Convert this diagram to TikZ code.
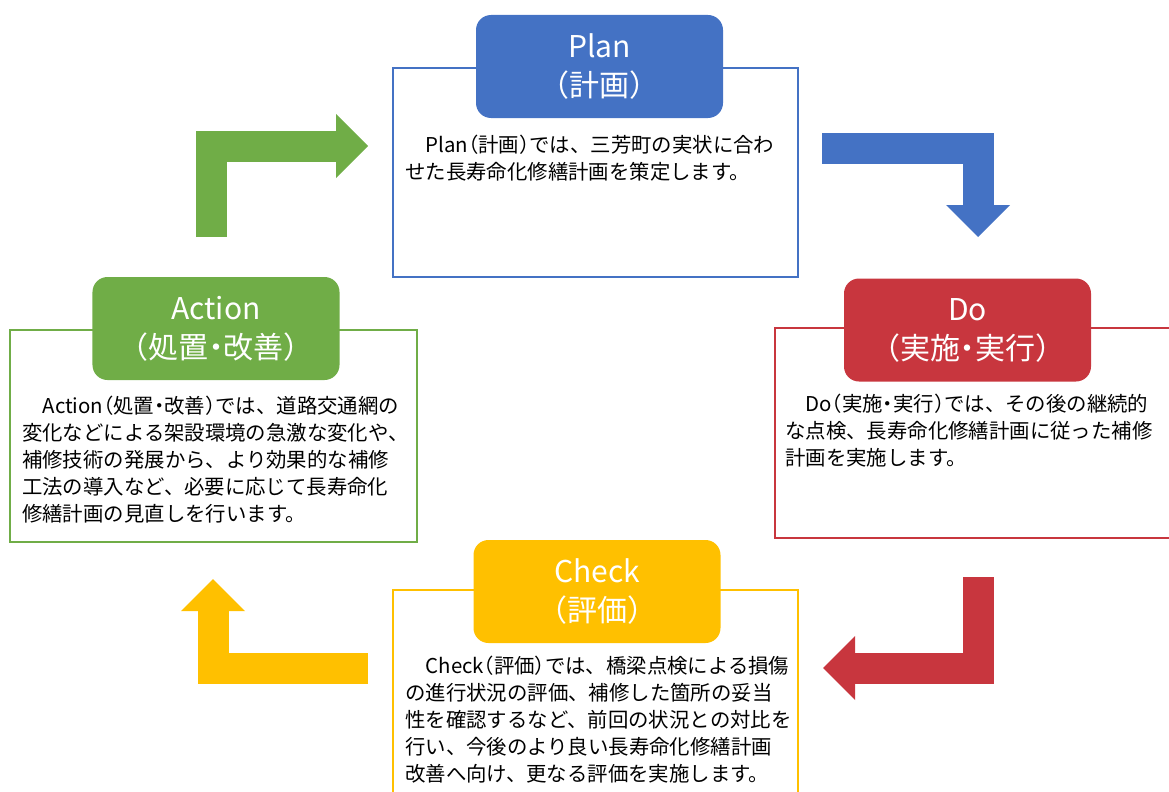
\documentclass[tikz,border=0pt]{standalone}
\usepackage{fontspec}
\setmainfont{Noto Sans CJK JP}
\newfontfamily\halfwidth[RawFeature=+halt]{Noto Sans CJK JP}
\newcommand\hlp{{\halfwidth （}}
\newcommand\hrp{{\halfwidth ）}}
\newcommand\hdot{{\halfwidth ・}}
\usepackage{tikz}
\usetikzlibrary{arrows.meta,positioning}

\definecolor{planblue}{RGB}{68,114,196}
\definecolor{dored}{RGB}{200,54,62}
\definecolor{actgreen}{RGB}{112,173,71}
\definecolor{checkyellow}{RGB}{255,192,0}

\tikzset{
	header/.style={rounded corners=15bp, minimum width=247bp, minimum height=103bp,
		inner sep=0pt, align=center, text=white,
		font=\fontsize{30bp}{39bp}\selectfont},
	frame/.style={line width=1.8bp, inner sep=0pt},
	body/.style={anchor=north west, inner sep=0pt, align=left,
		font=\fontsize{20.4bp}{27bp}\selectfont},
	bent/.style={line width=31bp, line join=miter,
		-{Triangle[length=32bp, width=64bp, line width=0pt]}}
}

\begin{document}
\begin{tikzpicture}[x=1bp, y=-1bp]
		\useasboundingbox (0,0) rectangle (1169,792);

		% 1. Frames behind the headers
		\node[frame, draw=planblue, minimum width=405bp, minimum height=209bp] (planbox) at (595.5,172.5) {};
		\node[frame, draw=dored, minimum width=405bp, minimum height=210bp] (dobox) at (977.5,433) {};
		\node[frame, draw=actgreen, minimum width=407bp, minimum height=212bp] (actbox) at (213.5,436) {};
		\node[frame, draw=checkyellow, minimum width=405bp, minimum height=220bp] (checkbox) at (595.5,700) {};

		% 2. Coloured headers
		\node[header, fill=planblue] (plan) at (599.5,66.5) {Plan\\（計画）};
		\node[header, fill=dored] (do) at (967.5,330) {Do\\（実施\hdot 実行）};
		\node[header, fill=actgreen] (act) at (216,328.5) {Action\\（処置\hdot 改善）};
		\node[header, fill=checkyellow] (check) at (597,591.5) {Check\\（評価）};

		% 3. Texts in the frames
		\node[body] (plantext) at (405,135) {　Plan\hlp 計画\hrp では、三芳町の実状に合わ\\せた長寿命化修繕計画を策定します。};
		\node[body] (dotext) at (785,394) {　Do\hlp 実施\hdot 実行\hrp では、その後の継続的\\な点検、長寿命化修繕計画に従った補修\\計画を実施します。};
		\node[body] (acttext) at (22,396) {　Action\hlp 処置\hdot 改善\hrp では、道路交通網の\\変化などによる架設環境の急激な変化や、\\補修技術の発展から、より効果的な補修\\工法の導入など、必要に応じて長寿命化\\修繕計画の見直しを行います。};
		\node[body] (checktext) at (405,656) {　Check\hlp 評価\hrp では、橋梁点検による損傷\\の進行状況の評価、補修した箇所の妥当\\性を確認するなど、前回の状況との対比を\\行い、今後のより良い長寿命化修繕計画\\改善へ向け、更なる評価を実施します。};

		% 4. Bent arrows between the phases
		\coordinate (a1) at (211,237);
		\coordinate (a2) at (368,146);
		\draw[bent, actgreen] (a1) |- (a2);

		\coordinate (p1) at (822,148);
		\coordinate (p2) at (978,237);
		\draw[bent, planblue] (p1) -| (p2);

		\coordinate (d1) at (978,577);
		\coordinate (d2) at (823,668);
		\draw[bent, dored] (d1) |- (d2);

		\coordinate (c1) at (368,668);
		\coordinate (c2) at (213,579);
		\draw[bent, checkyellow] (c1) -| (c2);
	\end{tikzpicture}
\end{document}
